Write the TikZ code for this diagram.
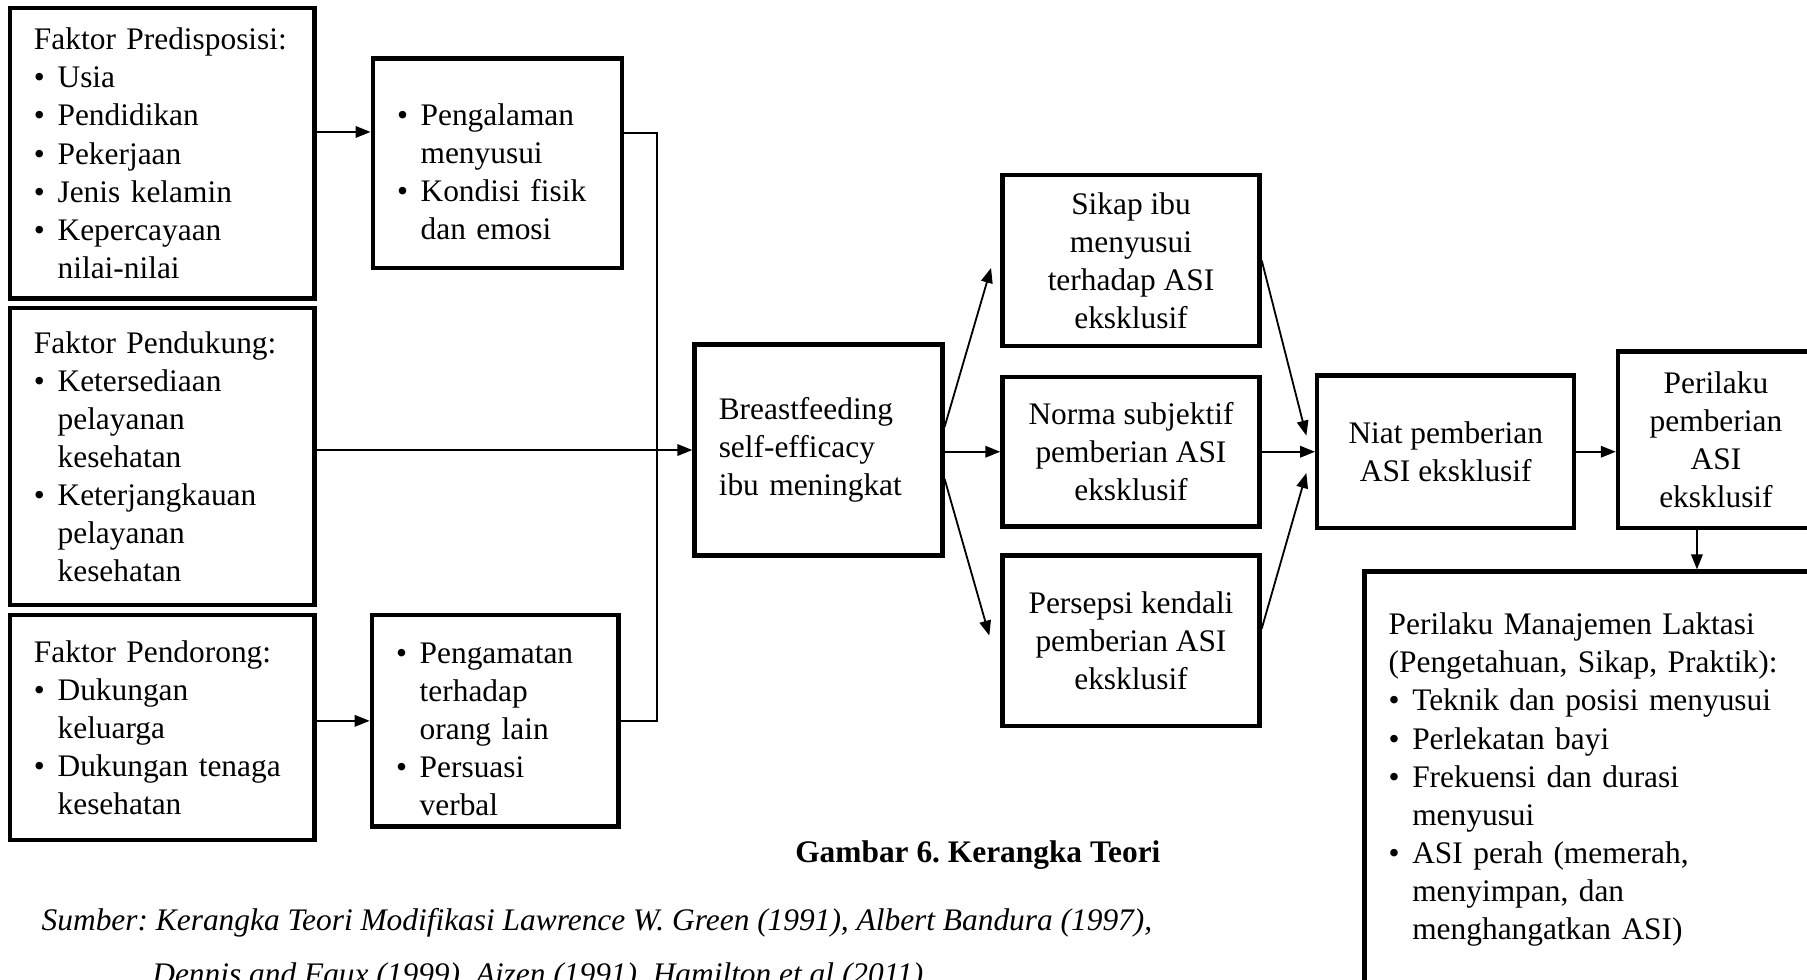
\documentclass[tikz,border=0pt]{standalone}
\usepackage{fontspec}
\setmainfont{Liberation Serif}
\usetikzlibrary{arrows.meta}
\frenchspacing
\newcommand{\bitem}{\par\noindent\hangindent=4.1mm\hangafter=1\makebox[4.1mm][l]{\textbullet}}
\tikzset{
  box/.style={draw, line width=2.2pt, inner xsep=4.2mm, inner ysep=0pt},
  listbox/.style={box, align=left},
  midbox/.style={box, align=center},
  flow/.style={-{Triangle[length=2.6mm,width=2mm]}, line width=0.9pt},
  link/.style={line width=0.9pt}
}

\begin{document}
\begin{tikzpicture}[x=0.2mm, y=-0.2mm, font=\fontsize{15.5pt}{18.8pt}\selectfont]
  \useasboundingbox (0,0) rectangle (1568,850);
  % faktor
  \node[listbox, text width=44.5mm, minimum height=50.4mm] (pred) at (140.75,133)
    {Faktor Predisposisi:\bitem Usia\bitem Pendidikan\bitem Pekerjaan\bitem Jenis kelamin\bitem Kepercayaan\newline nilai-nilai\par};
  \node[listbox, text width=44.5mm, minimum height=51.5mm] (pend) at (140.75,396.2)
    {Faktor Pendukung:\bitem Ketersediaan\newline pelayanan\newline kesehatan\bitem Keterjangkauan\newline pelayanan\newline kesehatan\par};
  \node[listbox, text width=44.5mm, minimum height=39.1mm] (pendo) at (140.75,631.3)
    {Faktor Pendorong:\bitem Dukungan\newline keluarga\bitem Dukungan tenaga\newline kesehatan\par};
  % sumber efikasi
  \node[listbox, text width=34.8mm, minimum height=36.4mm] (pengal) at (431.5,141.7)
    {\bitem Pengalaman\newline menyusui\bitem Kondisi fisik\newline dan emosi\par};
  \node[listbox, text width=34.4mm, minimum height=36.7mm] (pengam) at (429.7,625.5)
    {\bitem Pengamatan\newline terhadap\newline orang lain\bitem Persuasi\newline verbal\par};
  \node[listbox, text width=34.6mm, minimum height=36.6mm] (bse) at (710.2,390.5)
    {Breastfeeding\\self-efficacy\\ibu meningkat};
  % TPB
  \node[midbox, minimum width=44.6mm, minimum height=29.6mm] (sikap) at (981.4,226)
    {Sikap ibu\\menyusui\\terhadap ASI\\eksklusif};
  \node[midbox, minimum width=44.6mm, minimum height=26mm] (norma) at (981.4,392)
    {Norma subjektif\\pemberian ASI\\eksklusif};
  \node[midbox, minimum width=44.6mm, minimum height=29.6mm] (persepsi) at (981.4,556)
    {Persepsi kendali\\pemberian ASI\\eksklusif};
  \node[midbox, minimum width=44.6mm, minimum height=26.4mm] (niat) at (1254.5,392)
    {Niat pemberian\\ASI eksklusif};
  \node[midbox, minimum width=34mm, minimum height=30.6mm] (peril) at (1489,381.5)
    {Perilaku\\pemberian\\ASI\\eksklusif};
  \node[listbox, text width=71.6mm, minimum height=72.2mm] (manaj) at (1384,676.5)
    {Perilaku Manajemen Laktasi\\(Pengetahuan, Sikap, Praktik):\bitem Teknik dan posisi menyusui\bitem Perlekatan bayi\bitem Frekuensi dan durasi\newline menyusui\bitem ASI perah (memerah,\newline menyimpan, dan\newline menghangatkan ASI)\par};
  % keterangan
  \node[font=\fontsize{15.5pt}{18.8pt}\selectfont\bfseries] (judul) at (848.5,742) {Gambar 6. Kerangka Teori};
  \node[anchor=west, font=\fontsize{15.5pt}{18.8pt}\selectfont\itshape] (sumber) at (30,801)
    {Sumber: Kerangka Teori Modifikasi Lawrence W. Green (1991), Albert Bandura (1997),};
  \node[anchor=west, font=\fontsize{15.5pt}{18.8pt}\selectfont\itshape] (sumber2) at (126,847.5)
    {Dennis and Faux (1999), Ajzen (1991), Hamilton et al (2011)};
  % panah
  \coordinate (p1) at ([yshift=3.7mm]pred.east);
  \draw[flow] (p1) -- (p1 -| pengal.west);
  \coordinate (p2) at ([yshift=5.2mm]pengal.east);
  \draw[link] (p2) -- ++(29,0) |- (pengam.east);
  \draw[flow] (pend.east |- bse.west) -- (bse.west);
  \draw[flow] (pendo.east |- pengam.west) -- (pengam.west);
  \draw[flow] ([yshift=4mm]bse.east) -- ([xshift=-1.6mm,yshift=-1.3mm]sikap.west);
  \draw[flow] (norma.west -| bse.east) -- (norma.west);
  \draw[flow] ([yshift=-5mm]bse.east) -- ([xshift=-1.9mm,yshift=0.9mm]persepsi.west);
  \draw[flow] (sikap.east) -- ([xshift=-1.5mm,yshift=2.8mm]niat.west);
  \draw[flow] (norma.east) -- (norma.east -| niat.west);
  \draw[flow] ([yshift=2.1mm]persepsi.east) -- ([xshift=-1.5mm,yshift=-3.7mm]niat.west);
  \draw[flow] (niat.east) -- (niat.east -| peril.west);
  \coordinate (p3) at ([xshift=-3.3mm]peril.south);
  \draw[flow] (p3) -- (p3 |- manaj.north);
\end{tikzpicture}
\end{document}
